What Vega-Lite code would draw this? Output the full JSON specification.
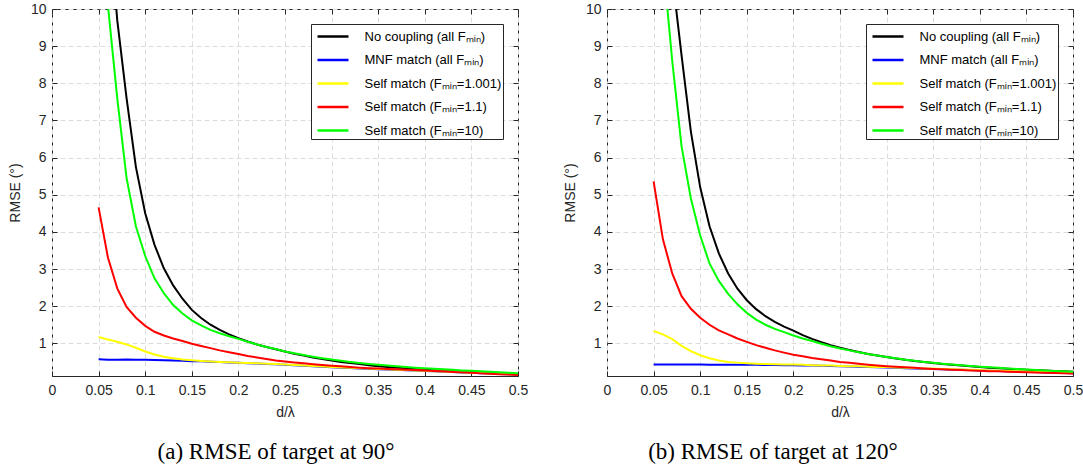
{
  "$schema": "https://vega.github.io/schema/vega-lite/v6.json",
  "background": "white",
  "padding": {"left": 7, "top": 1, "right": 5, "bottom": 5},
  "spacing": 33,
  "config": {
    "font": "Liberation Sans",
    "view": {"stroke": "#262626", "strokeWidth": 1},
    "axis": {
      "domain": false, "grid": true, "gridColor": "#dcdcdc", "gridDash": [5, 3], "gridWidth": 1,
      "tickColor": "#262626", "tickSize": -5, "labelColor": "#262626", "labelFontSize": 14,
      "labelFont": "Liberation Sans", "titleFont": "Liberation Sans",
      "titleColor": "#262626", "titleFontSize": 14, "titleFontWeight": "normal",
      "labelFlush": false, "labelOverlap": false
    },
    "legend": {
      "fillColor": "white", "strokeColor": "#262626", "padding": 1,
      "symbolType": "M-1.55,0H1.55", "symbolSize": 400, "symbolStrokeWidth": 2.5, "symbolOffset": 9.5,
      "labelFontSize": 13, "labelFont": "Liberation Sans", "labelColor": "black",
      "rowPadding": 4.5, "offset": 15, "labelOffset": 20
    }
  },
  "datasets": {
    "a": [
      {"x": 0.05, "k": 19, "b": 0.57, "y": 1.17, "r": 4.66, "g": 16},
      {"x": 0.06, "k": 12.8, "b": 0.56, "y": 1.10, "r": 3.31, "g": 10.1},
      {"x": 0.07, "k": 9.7, "b": 0.555, "y": 1.04, "r": 2.48, "g": 7.6},
      {"x": 0.08, "k": 7.6, "b": 0.565, "y": 0.97, "r": 1.98, "g": 5.45},
      {"x": 0.09, "k": 5.75, "b": 0.555, "y": 0.88, "r": 1.69, "g": 4.15},
      {"x": 0.10, "k": 4.5, "b": 0.555, "y": 0.78, "r": 1.47, "g": 3.35},
      {"x": 0.11, "k": 3.65, "b": 0.55, "y": 0.70, "r": 1.31, "g": 2.75},
      {"x": 0.12, "k": 3.02, "b": 0.545, "y": 0.64, "r": 1.21, "g": 2.35},
      {"x": 0.13, "k": 2.56, "b": 0.54, "y": 0.60, "r": 1.13, "g": 2.03},
      {"x": 0.14, "k": 2.2, "b": 0.53, "y": 0.565, "r": 1.06, "g": 1.8},
      {"x": 0.15, "k": 1.9, "b": 0.52, "y": 0.545, "r": 0.99, "g": 1.62},
      {"x": 0.16, "k": 1.68, "b": 0.515, "y": 0.525, "r": 0.93, "g": 1.48},
      {"x": 0.17, "k": 1.5, "b": 0.505, "y": 0.51, "r": 0.87, "g": 1.36},
      {"x": 0.18, "k": 1.36, "b": 0.495, "y": 0.5, "r": 0.81, "g": 1.27},
      {"x": 0.19, "k": 1.24, "b": 0.485, "y": 0.49, "r": 0.76, "g": 1.19},
      {"x": 0.20, "k": 1.14, "b": 0.475, "y": 0.48, "r": 0.71, "g": 1.12},
      {"x": 0.21, "k": 1.05, "b": 0.465, "y": 0.47, "r": 0.66, "g": 1.04},
      {"x": 0.22, "k": 0.97, "b": 0.455, "y": 0.46, "r": 0.62, "g": 0.97},
      {"x": 0.23, "k": 0.9, "b": 0.445, "y": 0.45, "r": 0.58, "g": 0.9},
      {"x": 0.24, "k": 0.84, "b": 0.435, "y": 0.44, "r": 0.54, "g": 0.845},
      {"x": 0.25, "k": 0.78, "b": 0.425, "y": 0.43, "r": 0.51, "g": 0.78},
      {"x": 0.26, "k": 0.72, "b": 0.41, "y": 0.415, "r": 0.485, "g": 0.73},
      {"x": 0.27, "k": 0.67, "b": 0.395, "y": 0.40, "r": 0.46, "g": 0.685},
      {"x": 0.28, "k": 0.62, "b": 0.385, "y": 0.39, "r": 0.435, "g": 0.64},
      {"x": 0.29, "k": 0.575, "b": 0.37, "y": 0.375, "r": 0.415, "g": 0.6},
      {"x": 0.30, "k": 0.535, "b": 0.355, "y": 0.36, "r": 0.395, "g": 0.565},
      {"x": 0.31, "k": 0.5, "b": 0.345, "y": 0.35, "r": 0.38, "g": 0.53},
      {"x": 0.32, "k": 0.47, "b": 0.335, "y": 0.34, "r": 0.36, "g": 0.5},
      {"x": 0.33, "k": 0.44, "b": 0.325, "y": 0.33, "r": 0.345, "g": 0.47},
      {"x": 0.34, "k": 0.41, "b": 0.315, "y": 0.32, "r": 0.33, "g": 0.445},
      {"x": 0.35, "k": 0.385, "b": 0.305, "y": 0.31, "r": 0.32, "g": 0.42},
      {"x": 0.36, "k": 0.36, "b": 0.295, "y": 0.3, "r": 0.31, "g": 0.4},
      {"x": 0.37, "k": 0.34, "b": 0.285, "y": 0.29, "r": 0.3, "g": 0.38},
      {"x": 0.38, "k": 0.32, "b": 0.275, "y": 0.28, "r": 0.29, "g": 0.36},
      {"x": 0.39, "k": 0.3, "b": 0.265, "y": 0.27, "r": 0.28, "g": 0.345},
      {"x": 0.40, "k": 0.285, "b": 0.255, "y": 0.26, "r": 0.27, "g": 0.33},
      {"x": 0.41, "k": 0.27, "b": 0.245, "y": 0.25, "r": 0.255, "g": 0.315},
      {"x": 0.42, "k": 0.255, "b": 0.235, "y": 0.24, "r": 0.245, "g": 0.3},
      {"x": 0.43, "k": 0.24, "b": 0.225, "y": 0.23, "r": 0.23, "g": 0.285},
      {"x": 0.44, "k": 0.23, "b": 0.215, "y": 0.22, "r": 0.22, "g": 0.27},
      {"x": 0.45, "k": 0.22, "b": 0.205, "y": 0.21, "r": 0.205, "g": 0.26},
      {"x": 0.46, "k": 0.21, "b": 0.195, "y": 0.2, "r": 0.195, "g": 0.245},
      {"x": 0.47, "k": 0.2, "b": 0.185, "y": 0.19, "r": 0.18, "g": 0.235},
      {"x": 0.48, "k": 0.19, "b": 0.175, "y": 0.18, "r": 0.17, "g": 0.22},
      {"x": 0.49, "k": 0.18, "b": 0.165, "y": 0.17, "r": 0.16, "g": 0.21},
      {"x": 0.50, "k": 0.17, "b": 0.155, "y": 0.16, "r": 0.15, "g": 0.195}
    ],
    "b": [
      {"x": 0.05, "k": 24, "b": 0.43, "y": 1.33, "r": 5.36, "g": 18},
      {"x": 0.06, "k": 16, "b": 0.43, "y": 1.24, "r": 3.8, "g": 11.3},
      {"x": 0.07, "k": 10.9, "b": 0.43, "y": 1.11, "r": 2.88, "g": 8.6},
      {"x": 0.08, "k": 8.75, "b": 0.43, "y": 0.93, "r": 2.27, "g": 6.3},
      {"x": 0.09, "k": 6.7, "b": 0.43, "y": 0.79, "r": 1.93, "g": 4.9},
      {"x": 0.10, "k": 5.2, "b": 0.43, "y": 0.68, "r": 1.69, "g": 3.9},
      {"x": 0.11, "k": 4.15, "b": 0.425, "y": 0.6, "r": 1.5, "g": 3.15},
      {"x": 0.12, "k": 3.42, "b": 0.425, "y": 0.54, "r": 1.35, "g": 2.68},
      {"x": 0.13, "k": 2.88, "b": 0.425, "y": 0.5, "r": 1.24, "g": 2.33},
      {"x": 0.14, "k": 2.47, "b": 0.42, "y": 0.48, "r": 1.13, "g": 2.05},
      {"x": 0.15, "k": 2.16, "b": 0.42, "y": 0.46, "r": 1.04, "g": 1.82},
      {"x": 0.16, "k": 1.92, "b": 0.42, "y": 0.45, "r": 0.95, "g": 1.64},
      {"x": 0.17, "k": 1.73, "b": 0.415, "y": 0.44, "r": 0.88, "g": 1.5},
      {"x": 0.18, "k": 1.58, "b": 0.415, "y": 0.435, "r": 0.81, "g": 1.39},
      {"x": 0.19, "k": 1.45, "b": 0.41, "y": 0.43, "r": 0.75, "g": 1.3},
      {"x": 0.20, "k": 1.34, "b": 0.41, "y": 0.43, "r": 0.69, "g": 1.21},
      {"x": 0.21, "k": 1.22, "b": 0.405, "y": 0.42, "r": 0.65, "g": 1.13},
      {"x": 0.22, "k": 1.12, "b": 0.4, "y": 0.41, "r": 0.605, "g": 1.06},
      {"x": 0.23, "k": 1.03, "b": 0.395, "y": 0.405, "r": 0.57, "g": 0.99},
      {"x": 0.24, "k": 0.95, "b": 0.39, "y": 0.4, "r": 0.535, "g": 0.92},
      {"x": 0.25, "k": 0.88, "b": 0.385, "y": 0.39, "r": 0.5, "g": 0.86},
      {"x": 0.26, "k": 0.82, "b": 0.375, "y": 0.385, "r": 0.475, "g": 0.81},
      {"x": 0.27, "k": 0.765, "b": 0.37, "y": 0.38, "r": 0.45, "g": 0.76},
      {"x": 0.28, "k": 0.715, "b": 0.36, "y": 0.37, "r": 0.425, "g": 0.71},
      {"x": 0.29, "k": 0.67, "b": 0.355, "y": 0.365, "r": 0.405, "g": 0.67},
      {"x": 0.30, "k": 0.63, "b": 0.35, "y": 0.36, "r": 0.385, "g": 0.63},
      {"x": 0.31, "k": 0.59, "b": 0.34, "y": 0.35, "r": 0.37, "g": 0.595},
      {"x": 0.32, "k": 0.555, "b": 0.33, "y": 0.34, "r": 0.355, "g": 0.56},
      {"x": 0.33, "k": 0.525, "b": 0.325, "y": 0.335, "r": 0.34, "g": 0.53},
      {"x": 0.34, "k": 0.495, "b": 0.315, "y": 0.325, "r": 0.325, "g": 0.5},
      {"x": 0.35, "k": 0.47, "b": 0.31, "y": 0.32, "r": 0.31, "g": 0.475},
      {"x": 0.36, "k": 0.445, "b": 0.3, "y": 0.31, "r": 0.3, "g": 0.45},
      {"x": 0.37, "k": 0.42, "b": 0.29, "y": 0.3, "r": 0.29, "g": 0.43},
      {"x": 0.38, "k": 0.4, "b": 0.285, "y": 0.295, "r": 0.28, "g": 0.41},
      {"x": 0.39, "k": 0.38, "b": 0.28, "y": 0.285, "r": 0.27, "g": 0.39},
      {"x": 0.40, "k": 0.36, "b": 0.27, "y": 0.28, "r": 0.26, "g": 0.37},
      {"x": 0.41, "k": 0.345, "b": 0.26, "y": 0.27, "r": 0.25, "g": 0.355},
      {"x": 0.42, "k": 0.33, "b": 0.255, "y": 0.26, "r": 0.245, "g": 0.34},
      {"x": 0.43, "k": 0.315, "b": 0.245, "y": 0.255, "r": 0.235, "g": 0.325},
      {"x": 0.44, "k": 0.3, "b": 0.24, "y": 0.245, "r": 0.23, "g": 0.31},
      {"x": 0.45, "k": 0.29, "b": 0.23, "y": 0.24, "r": 0.22, "g": 0.295},
      {"x": 0.46, "k": 0.275, "b": 0.225, "y": 0.23, "r": 0.215, "g": 0.28},
      {"x": 0.47, "k": 0.265, "b": 0.215, "y": 0.225, "r": 0.21, "g": 0.27},
      {"x": 0.48, "k": 0.255, "b": 0.21, "y": 0.215, "r": 0.2, "g": 0.255},
      {"x": 0.49, "k": 0.245, "b": 0.2, "y": 0.21, "r": 0.195, "g": 0.245},
      {"x": 0.50, "k": 0.235, "b": 0.195, "y": 0.2, "r": 0.19, "g": 0.235}
    ]
  },
  "resolve": {"scale": {"color": "independent"}},
  "hconcat": [
    {
      "width": 466, "height": 367,
      "data": {"name": "a"},
      "title": {"text": "(a) RMSE of target at 90°", "orient": "bottom", "anchor": "middle", "font": "Liberation Serif", "fontSize": 23, "fontWeight": "normal", "color": "black", "offset": 22, "dx": -9},
      "transform": [{"fold": ["k", "b", "y", "r", "g"], "as": ["s", "v"]}],
      "layer": [
        {
          "mark": {"type": "line", "strokeWidth": 2, "clip": true},
          "encoding": {
            "x": {"field": "x", "type": "quantitative", "scale": {"domain": [0, 0.5], "nice": false, "zero": false},
                  "axis": {"values": [0, 0.05, 0.1, 0.15, 0.2, 0.25, 0.3, 0.35, 0.4, 0.45, 0.5], "format": ".2~f", "title": "d/λ", "labelPadding": 12, "titlePadding": 8}},
            "y": {"field": "v", "type": "quantitative", "scale": {"domain": [0.12, 10], "nice": false, "zero": false},
                  "axis": {"values": [1, 2, 3, 4, 5, 6, 7, 8, 9, 10], "title": "RMSE (°)", "labelPadding": 11, "titlePadding": 8}},
            "color": {"field": "s", "type": "nominal", "sort": null,
                      "scale": {"domain": ["k", "b", "y", "r", "g"], "range": ["#000000", "#0000ff", "#ffff00", "#ff0000", "#00ff00"]},
                      "legend": {"title": null, "orient": "top-right",
                                 "labelExpr": "datum.label == 'k' ? 'No coupling (all Fₘᵢₙ)\u00a0' : datum.label == 'b' ? 'MNF match (all Fₘᵢₙ)\u00a0' : datum.label == 'y' ? 'Self match (Fₘᵢₙ=1.001)\u00a0' : datum.label == 'r' ? 'Self match (Fₘᵢₙ=1.1)\u00a0' : 'Self match (Fₘᵢₙ=10)\u00a0'"}}
          }
        },
        {
          "mark": {"type": "line", "opacity": 0, "clip": true},
          "encoding": {
            "x": {"field": "x", "type": "quantitative", "axis": {"orient": "top", "values": [0, 0.05, 0.1, 0.15, 0.2, 0.25, 0.3, 0.35, 0.4, 0.45, 0.5], "labels": false, "grid": false, "title": null}},
            "y": {"field": "v", "type": "quantitative", "axis": {"orient": "right", "values": [1, 2, 3, 4, 5, 6, 7, 8, 9, 10], "labels": false, "grid": false, "title": null}}
          }
        }
      ],
      "resolve": {"axis": {"x": "independent", "y": "independent"}}
    },
    {
      "width": 466, "height": 367,
      "data": {"name": "b"},
      "title": {"text": "(b) RMSE of target at 120°", "orient": "bottom", "anchor": "middle", "font": "Liberation Serif", "fontSize": 23, "fontWeight": "normal", "color": "black", "offset": 22, "dx": -67},
      "transform": [{"fold": ["k", "b", "y", "r", "g"], "as": ["s", "v"]}],
      "layer": [
        {
          "mark": {"type": "line", "strokeWidth": 2, "clip": true},
          "encoding": {
            "x": {"field": "x", "type": "quantitative", "scale": {"domain": [0, 0.5], "nice": false, "zero": false},
                  "axis": {"values": [0, 0.05, 0.1, 0.15, 0.2, 0.25, 0.3, 0.35, 0.4, 0.45, 0.5], "format": ".2~f", "title": "d/λ", "labelPadding": 12, "titlePadding": 8}},
            "y": {"field": "v", "type": "quantitative", "scale": {"domain": [0.12, 10], "nice": false, "zero": false},
                  "axis": {"values": [1, 2, 3, 4, 5, 6, 7, 8, 9, 10], "title": "RMSE (°)", "labelPadding": 11, "titlePadding": 8}},
            "color": {"field": "s", "type": "nominal", "sort": null,
                      "scale": {"domain": ["k", "b", "y", "r", "g"], "range": ["#000000", "#0000ff", "#ffff00", "#ff0000", "#00ff00"]},
                      "legend": {"title": null, "orient": "top-right",
                                 "labelExpr": "datum.label == 'k' ? 'No coupling (all Fₘᵢₙ)\u00a0' : datum.label == 'b' ? 'MNF match (all Fₘᵢₙ)\u00a0' : datum.label == 'y' ? 'Self match (Fₘᵢₙ=1.001)\u00a0' : datum.label == 'r' ? 'Self match (Fₘᵢₙ=1.1)\u00a0' : 'Self match (Fₘᵢₙ=10)\u00a0'"}}
          }
        },
        {
          "mark": {"type": "line", "opacity": 0, "clip": true},
          "encoding": {
            "x": {"field": "x", "type": "quantitative", "axis": {"orient": "top", "values": [0, 0.05, 0.1, 0.15, 0.2, 0.25, 0.3, 0.35, 0.4, 0.45, 0.5], "labels": false, "grid": false, "title": null}},
            "y": {"field": "v", "type": "quantitative", "axis": {"orient": "right", "values": [1, 2, 3, 4, 5, 6, 7, 8, 9, 10], "labels": false, "grid": false, "title": null}}
          }
        }
      ],
      "resolve": {"axis": {"x": "independent", "y": "independent"}}
    }
  ]
}
